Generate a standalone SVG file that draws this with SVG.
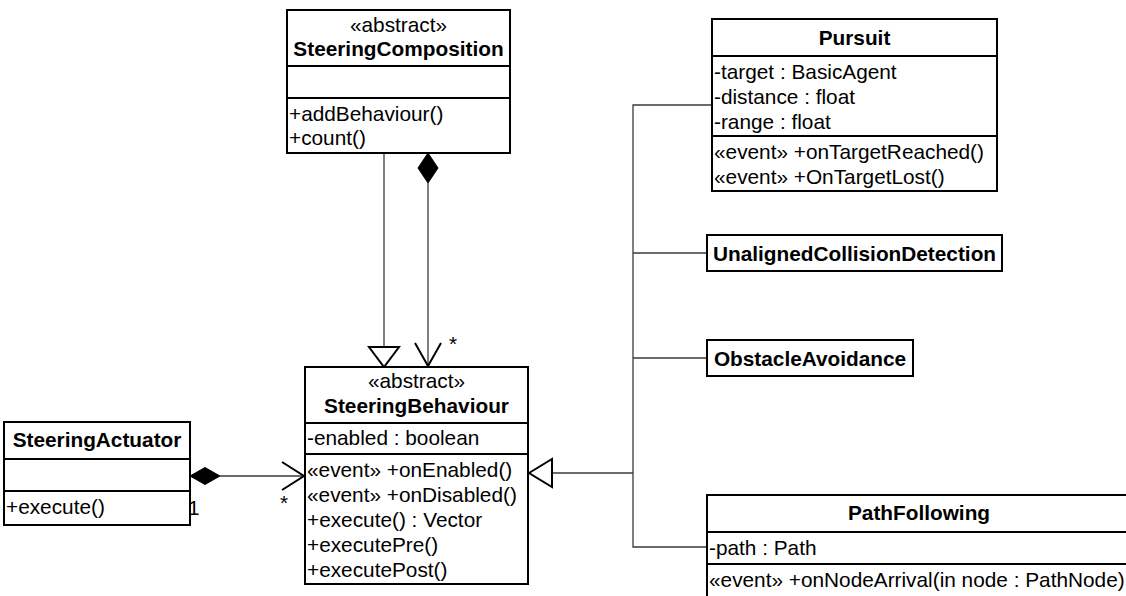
<svg xmlns="http://www.w3.org/2000/svg" width="1126" height="596" viewBox="0 0 1126 596">
<style>
.box{fill:#fff;stroke:#000;stroke-width:2}
.div{stroke:#000;stroke-width:2}
text{font-family:"Liberation Sans",Arial,sans-serif;font-size:20.8px;fill:#000}
.b{font-weight:bold;text-anchor:middle}
.c{text-anchor:middle}
.ln{fill:none;stroke:#3a3a3a;stroke-width:1.3}
.hollow{fill:#fff;stroke:#000;stroke-width:2}
.open{fill:none;stroke:#000;stroke-width:2}
.dia{fill:#000;stroke:#000;stroke-width:1}
</style>
<rect width="1126" height="596" fill="#fff"/>
<g id="connectors">
  <path class="ln" d="M384,153 V347"/>
  <polygon class="hollow" points="369,347 399,347 384,367"/>
  <path class="ln" d="M428,183 V366"/>
  <polygon class="dia" points="428,153 438,168 428,183 418,168"/>
  <polyline class="open" points="415,343 428,366 441,343"/>
  <text x="449" y="351">*</text>
  <path class="ln" d="M220,476 H304"/>
  <polygon class="dia" points="190,476 205,467.5 220,476 205,484.5"/>
  <polyline class="open" points="282,462 304,476 282,490"/>
  <text x="188" y="515">1</text>
  <text x="280" y="510">*</text>
  <path class="ln" d="M712,105 H633 V547 H707"/>
  <path class="ln" d="M707,253 H633"/>
  <path class="ln" d="M707,358 H633"/>
  <path class="ln" d="M633,473 H552"/>
  <polygon class="hollow" points="529,473 552,459 552,487"/>
</g>
<g id="SteeringComposition">
  <rect class="box" x="287" y="10" width="223" height="143"/>
  <line class="div" x1="287" y1="66" x2="510" y2="66"/>
  <line class="div" x1="287" y1="98" x2="510" y2="98"/>
  <text class="c" x="398.5" y="32">«abstract»</text>
  <text class="b" x="398.5" y="56">SteeringComposition</text>
  <text x="289" y="121">+addBehaviour()</text>
  <text x="289" y="145">+count()</text>
</g>
<g id="SteeringBehaviour">
  <rect class="box" x="305" y="367" width="223" height="217"/>
  <line class="div" x1="305" y1="423" x2="528" y2="423"/>
  <line class="div" x1="305" y1="454" x2="528" y2="454"/>
  <text class="c" x="416.5" y="388">«abstract»</text>
  <text class="b" x="416.5" y="413">SteeringBehaviour</text>
  <text x="307" y="445">-enabled : boolean</text>
  <text x="307" y="476.5">«event» +onEnabled()</text>
  <text x="307" y="501.5">«event» +onDisabled()</text>
  <text x="307" y="526.5">+execute() : Vector</text>
  <text x="307" y="551.5">+executePre()</text>
  <text x="307" y="576.5">+executePost()</text>
</g>
<g id="SteeringActuator">
  <rect class="box" x="4" y="422" width="186" height="103"/>
  <line class="div" x1="4" y1="459" x2="190" y2="459"/>
  <line class="div" x1="4" y1="491" x2="190" y2="491"/>
  <text class="b" x="97" y="447">SteeringActuator</text>
  <text x="6" y="514">+execute()</text>
</g>
<g id="Pursuit">
  <rect class="box" x="712" y="19" width="285" height="172"/>
  <line class="div" x1="712" y1="56" x2="997" y2="56"/>
  <line class="div" x1="712" y1="136" x2="997" y2="136"/>
  <text class="b" x="854.5" y="45">Pursuit</text>
  <text x="714" y="78.5">-target : BasicAgent</text>
  <text x="714" y="103.5">-distance : float</text>
  <text x="714" y="128.5">-range : float</text>
  <text x="714" y="158.5">«event» +onTargetReached()</text>
  <text x="714" y="183.5">«event» +OnTargetLost()</text>
</g>
<g id="UnalignedCollisionDetection">
  <rect class="box" x="707" y="235" width="295" height="36"/>
  <text class="b" x="854.5" y="261">UnalignedCollisionDetection</text>
</g>
<g id="ObstacleAvoidance">
  <rect class="box" x="707" y="340" width="206" height="36"/>
  <text class="b" x="810" y="366">ObstacleAvoidance</text>
</g>
<g id="PathFollowing">
  <rect class="box" x="707" y="495" width="430" height="110"/>
  <line class="div" x1="707" y1="532" x2="1137" y2="532"/>
  <line class="div" x1="707" y1="564" x2="1137" y2="564"/>
  <text class="b" x="919" y="520">PathFollowing</text>
  <text x="709" y="554.5">-path : Path</text>
  <text x="709" y="586.5">«event» +onNodeArrival(in node : PathNode)</text>
</g>
</svg>
